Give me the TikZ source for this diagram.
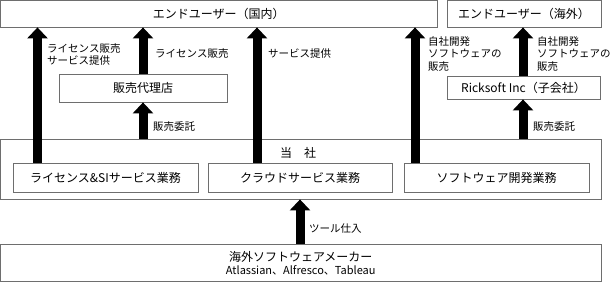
\documentclass[tikz,border=0pt]{standalone}
\usepackage{fontspec}
\setmainfont{Noto Sans CJK JP}
\usetikzlibrary{arrows.meta}
\definecolor{boxgray}{HTML}{6E6E6E}
\begin{document}
\begin{tikzpicture}[x=1pt,y=-1pt,
  box/.style={draw=boxgray,line width=0.8pt,fill=white,inner sep=0pt,font=\fontsize{12}{14}\selectfont,align=center},
  fat/.style={line width=9pt,-{Triangle[width=20pt,length=11pt]}},
  lbl/.style={anchor=west,font=\fontsize{10.5}{12.5}\selectfont,align=left,inner sep=0pt}]
\useasboundingbox (0,0) rectangle (610,282);
% boxes
\node[box,minimum width=436.5pt,minimum height=26.5pt] (dom) at (218.75,13.75) {エンドユーザー（国内）};
\node[box,minimum width=154pt,minimum height=26.5pt] (ovs) at (524,13.75) {エンドユーザー（海外）};
\node[box,minimum width=168pt,minimum height=28pt] (agent) at (143,88) {販売代理店};
\node[box,minimum width=153pt,minimum height=23pt] (rick) at (523.5,87.5) {Ricksoft Inc（子会社）};
\node[box,minimum width=600.5pt,minimum height=60pt] (comp) at (300.75,169) {};
\node[font=\fontsize{12}{14}\selectfont,inner sep=0pt] (complbl) at (298,153) {当　社};
\node[box,minimum width=185pt,minimum height=29pt] (lic) at (105.5,177.5) {ライセンス\&SIサービス業務};
\node[box,minimum width=184pt,minimum height=29pt] (cloud) at (300,177.5) {クラウドサービス業務};
\node[box,minimum width=185pt,minimum height=29pt] (soft) at (496.5,177.5) {ソフトウェア開発業務};
\node[box,minimum width=600.5pt,minimum height=37.5pt] (maker) at (300.75,263) {海外ソフトウェアメーカー\\[-1pt]{\fontsize{11}{13}\selectfont Atlassian、Alfresco、Tableau}};
% arrows
\draw[fat] (lic.north -| 37.5,0) -- (dom.south -| 37.5,0);
\draw[fat] (agent.north -| 143,0) -- (dom.south -| 143,0);
\draw[fat] (comp.north -| 143,0) -- (agent.south -| 143,0);
\draw[fat] (cloud.north -| 257,0) -- (dom.south -| 257,0);
\draw[fat] (soft.north -| 415,0) -- (dom.south -| 415,0);
\draw[fat] (rick.north -| 523,0) -- (ovs.south -| 523,0);
\draw[fat] (comp.north -| 523,0) -- (rick.south -| 523,0);
\draw[fat] (maker.north -| 300,0) -- (comp.south -| 300,0);
% labels
\node[lbl] (l1) at (47,54.5) {ライセンス販売\\サービス提供};
\node[lbl] (l2) at (155,54) {ライセンス販売};
\node[lbl] (l3) at (268,54) {サービス提供};
\node[lbl] (l4) at (428,54) {自社開発\\ソフトウェアの\\販売};
\node[lbl] (l5) at (537,54) {自社開発\\ソフトウェアの\\販売};
\node[lbl] (l6) at (153,127) {販売委託};
\node[lbl] (l7) at (533,127) {販売委託};
\node[lbl] (l8) at (309,229) {ツール仕入};
\end{tikzpicture}
\end{document}
